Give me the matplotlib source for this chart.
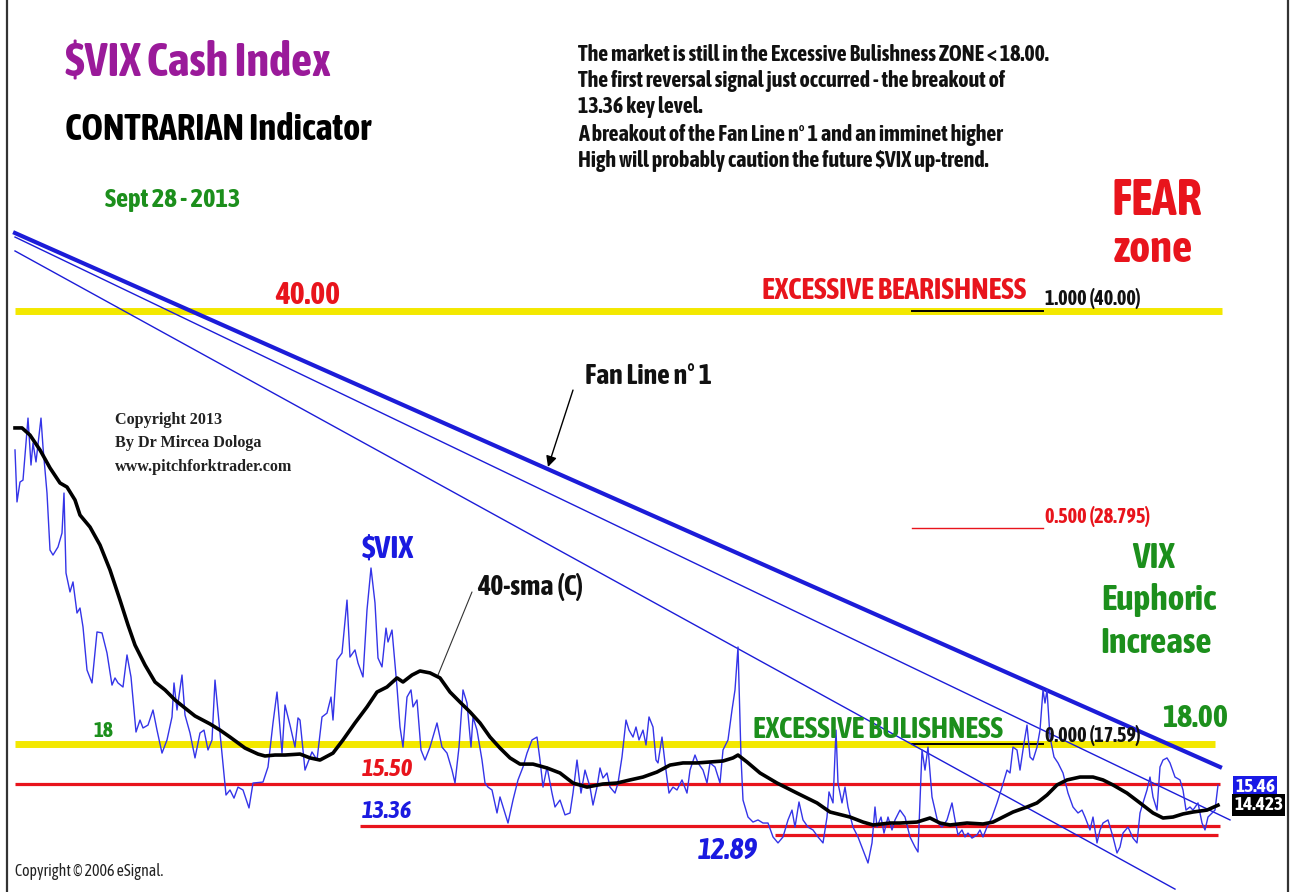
import matplotlib
matplotlib.use("Agg")
import matplotlib.pyplot as plt
from matplotlib import font_manager
import matplotlib.patheffects as pe

W, H = 1292, 892


def _w(v):
    return font_manager.weight_dict.get(v, 400) if isinstance(v, str) else v


# pick a narrow sans; bold if there is one, else regular made heavier with a stroke
NARROW, HEAVY = "Roboto", True
_narrow = [f for f in font_manager.fontManager.ttflist
           if "Narrow" in f.name or "Condensed" in f.name]
_bold = [f for f in _narrow if _w(f.weight) >= 600]
if _bold:
    NARROW, HEAVY = _bold[0].name, True
elif _narrow:
    NARROW, HEAVY = _narrow[0].name, False
SERIF = "Liberation Serif"

# ---- data (session index, price) ----
vix_bar = [0, 2, 5, 8, 13, 16, 18, 21, 26, 28, 32, 35, 38, 43, 47, 49, 51, 55, 58, 62, 65, 68,
           72, 77, 82, 87, 92, 97, 100, 103, 108, 112, 116, 121, 125, 128, 133, 138, 142, 147,
           152, 157, 159, 162, 167, 170, 175, 180, 185, 189, 193, 197, 200, 205, 211, 215, 219,
           223, 228, 234, 238, 248, 253, 258, 262, 267, 270, 275, 280, 283, 285, 290, 297, 302,
           307, 312, 316, 318, 322, 327, 332, 335, 340, 343, 348, 352, 356, 360, 363, 367, 371,
           373, 377, 382, 385, 388, 392, 396, 398, 402, 406, 410, 415, 422, 427, 432, 437, 440,
           444, 448, 452, 456, 458, 462, 467, 470, 473, 477, 482, 485, 489, 493, 498, 503, 508,
           512, 517, 522, 525, 528, 532, 537, 540, 545, 550, 555, 558, 562, 566, 570, 575, 578,
           582, 585, 588, 592, 595, 600, 603, 607, 611, 614, 618, 621, 624, 628, 631, 634, 638,
           641, 643, 647, 650, 654, 658, 662, 667, 672, 675, 680, 683, 688, 692, 695, 700, 705,
           708, 713, 717, 720, 723, 726, 728, 733, 738, 743, 748, 753, 758, 763, 768, 773, 777,
           780, 784, 788, 793, 798, 803, 808, 812, 814, 818, 821, 823, 827, 830, 833, 838, 843,
           848, 853, 857, 860, 862, 866, 869, 873, 877, 880, 885, 890, 895, 900, 903, 907, 910,
           913, 917, 920, 923, 927, 932, 937, 940, 943, 947, 950, 953, 957, 962, 965, 968, 972,
           977, 982, 987, 992, 995, 998, 1002, 1005, 1009, 1012, 1015, 1018, 1022, 1025, 1028,
           1030, 1032, 1035, 1039, 1043, 1048, 1053, 1058, 1063, 1067, 1070, 1075, 1078, 1082,
           1085, 1088, 1093, 1098, 1102, 1105, 1108, 1113, 1118, 1122, 1125, 1128, 1132, 1135,
           1138, 1142, 1145, 1148, 1152, 1155, 1160, 1165, 1168, 1171, 1175, 1178, 1183, 1187,
           1190, 1193, 1197, 1200, 1203]
vix_close = [32.81, 30.12, 31.15, 31.25, 34.46, 32.03, 33.17, 32.19, 34.46, 32.96, 30.58, 27.63,
             27.37, 27.79, 28.51, 30.58, 26.44, 25.46, 25.98, 24.37, 24.63, 23.65, 21.42, 20.75,
             23.39, 23.34, 22.30, 20.64, 21.01, 20.75, 20.54, 22.20, 21.06, 18.21, 18.83, 18.42,
             18.57, 19.35, 18.31, 17.12, 17.80, 18.99, 20.75, 19.35, 21.16, 19.09, 18.16, 16.87,
             18.16, 18.31, 17.28, 17.80, 20.90, 18.16, 14.95, 15.21, 14.79, 15.36, 15.21, 14.28,
             15.57, 15.62, 16.40, 18.68, 20.28, 17.12, 19.61, 18.57, 17.43, 18.94, 18.83, 16.24,
             17.18, 16.76, 18.99, 19.19, 20.02, 18.83, 21.94, 22.30, 25.04, 22.09, 22.46, 21.78,
             21.06, 24.53, 26.70, 24.89, 22.04, 21.58, 23.59, 22.87, 23.49, 20.54, 18.47, 17.43,
             20.02, 20.39, 19.51, 19.87, 17.28, 16.76, 17.43, 18.68, 17.43, 17.12, 16.24, 15.57,
             17.43, 20.39, 19.71, 17.43, 18.99, 18.31, 16.76, 15.57, 15.36, 15.21, 14.02, 14.85,
             14.17, 13.50, 14.69, 15.73, 16.40, 17.12, 17.80, 17.95, 16.76, 15.36, 16.40, 15.05,
             14.33, 14.69, 13.92, 14.02, 15.05, 16.76, 15.05, 16.24, 15.36, 14.43, 15.36, 16.35,
             15.83, 16.09, 15.36, 15.05, 15.57, 16.92, 18.83, 18.31, 17.95, 18.47, 17.80, 18.31,
             17.54, 18.99, 18.47, 16.76, 16.61, 17.95, 16.61, 15.05, 15.36, 15.21, 15.73, 15.05,
             16.24, 17.02, 16.61, 16.24, 15.57, 16.61, 16.40, 15.57, 17.28, 17.80, 19.35, 20.39,
             22.61, 16.92, 14.69, 13.81, 13.55, 13.66, 13.50, 13.50, 12.78, 12.47, 12.78, 13.66,
             14.17, 13.29, 14.59, 13.66, 13.29, 13.14, 12.78, 12.47, 13.81, 15.11, 14.54, 18.31,
             15.57, 14.54, 15.36, 14.33, 13.29, 12.78, 12.10, 11.43, 12.47, 14.33, 13.29, 13.81,
             12.98, 13.81, 13.14, 13.66, 14.17, 13.81, 12.78, 12.26, 12.00, 17.28, 16.24, 17.43,
             14.85, 14.17, 13.50, 13.29, 13.66, 14.54, 13.66, 12.88, 13.14, 12.78, 12.98, 12.72,
             12.88, 13.14, 12.78, 13.29, 13.81, 14.54, 15.36, 16.24, 16.09, 17.43, 17.28, 16.24,
             17.64, 18.57, 16.92, 16.76, 17.43, 18.31, 20.39, 19.71, 20.39, 17.95, 16.92, 16.61,
             16.09, 15.05, 14.33, 14.02, 14.17, 13.81, 13.14, 13.81, 12.47, 13.14, 13.50, 13.66,
             12.78, 11.95, 12.26, 12.98, 13.29, 12.72, 12.47, 14.02, 14.54, 15.21, 15.88, 14.85,
             14.17, 16.40, 16.76, 16.87, 16.61, 15.88, 15.73, 15.21, 14.17, 14.33, 14.17, 14.54,
             13.50, 13.14, 13.81, 14.02, 14.17, 15.46]

sma_bar = [0, 7, 15, 25, 35, 45, 52, 60, 65, 75, 85, 95, 105, 113, 120, 130, 140, 150, 160, 170,
           180, 195, 205, 215, 230, 243, 250, 260, 270, 285, 295, 305, 318, 328, 340, 352, 362,
           372, 382, 388, 397, 405, 415, 425, 435, 445, 455, 465, 475, 485, 495, 505, 518, 532,
           545, 558, 572, 588, 602, 615, 628, 642, 655, 668, 682, 695, 708, 718, 723, 732, 745,
           762, 782, 802, 815, 835, 848, 858, 875, 885, 902, 915, 925, 935, 952, 968, 978, 988,
           998, 1012, 1022, 1032, 1042, 1052, 1065, 1078, 1088, 1098, 1112, 1125, 1138, 1148,
           1158, 1168, 1178, 1192, 1203]
sma_40 = [33.95, 33.95, 33.58, 32.81, 31.88, 31.10, 30.89, 30.22, 29.44, 28.82, 27.89, 26.60,
          25.04, 23.75, 22.71, 21.68, 20.80, 20.39, 19.87, 19.45, 19.04, 18.63, 18.31, 17.95,
          17.38, 17.07, 16.97, 17.02, 17.02, 17.07, 16.87, 16.76, 17.12, 17.80, 18.68, 19.51,
          20.28, 20.54, 21.01, 20.80, 21.16, 21.37, 21.27, 21.01, 20.28, 19.76, 19.25, 18.68,
          17.95, 17.38, 16.87, 16.55, 16.55, 16.35, 16.09, 15.57, 15.36, 15.52, 15.57, 15.73,
          15.88, 16.14, 16.50, 16.61, 16.61, 16.66, 16.71, 16.87, 17.02, 16.66, 16.09, 15.57,
          15.05, 14.54, 14.07, 13.81, 13.55, 13.40, 13.50, 13.50, 13.55, 13.76, 13.50, 13.40,
          13.50, 13.45, 13.55, 13.81, 14.07, 14.33, 14.54, 14.95, 15.47, 15.73, 15.88, 15.88,
          15.73, 15.47, 15.05, 14.54, 14.02, 13.76, 13.81, 13.97, 14.07, 14.17, 14.423]

# fan lines: (start bar, start price, end bar, end price)
fan_lines = [(0, 44.04, 1205, 16.40), (0, 43.83, 1215, 13.66), (0, 43.11, 1160, 10.08)]
fan_width = [3.0, 1.0, 1.0]

# horizontal levels: (price, from bar, to bar)
yellow_levels = [(40.00, 0, 1207), (17.59, 0, 1200)]
red_levels = [(15.50, 0, 1205), (13.36, 345, 1205), (12.89, 760, 1203)]
fib_marks = [(40.00, "black"), (28.795, "#e8141c"), (17.59, "black")]

YELLOW = "#f3e800"
RED = "#e8141c"
GREEN = "#1c8f1c"
BLUE = "#1a1ae0"
PURPLE = "#9a1a9a"

fig = plt.figure(figsize=(W / 100, H / 100), dpi=100)
ax = fig.add_axes([0, 0, 1, 1])
ax.set_xlim(-15, 1277)
ax.set_ylim(9.93, 56.10)
ax.axis("off")

for lv, a, b in yellow_levels:
    ax.plot([a, b], [lv, lv], color=YELLOW, lw=5, solid_capstyle="butt", zorder=1)
for lv, a, b in red_levels:
    ax.plot([a, b], [lv, lv], color=RED, lw=2.3, solid_capstyle="butt", zorder=2)
for lv, c in fib_marks:
    ax.plot([897, 1028], [lv, lv], color=c, lw=1.4 if c == "black" else 1.0, zorder=3)

for (x0, y0, x1, y1), lw in zip(fan_lines, fan_width):
    ax.plot([x0, x1], [y0, y1], color="#1c1cd8", lw=lw, zorder=3)

ax.plot(vix_bar, vix_close, color="#3434e8", lw=1.0, zorder=4)
ax.plot(sma_bar, sma_40, color="black", lw=2.6, zorder=5)

# border
for bx in (-8, 1273):
    ax.axvline(bx, color="#333333", lw=1.6)

renderer = fig.canvas.get_renderer()


def txt(x, y, s, width, color="black", family=None, ha="left", size=None, **kw):
    """Text at pixel (x, baseline y); sized to a pixel width unless size is given."""
    weight = kw.pop("weight", "bold")
    fam = family or NARROW
    if fam == NARROW and weight == "bold" and not HEAVY:
        weight = "normal"
        kw["path_effects"] = [pe.withStroke(linewidth=1.1, foreground=color)]
    t = fig.text(x / W, 1 - y / H, s, fontsize=size or 20, color=color, family=fam,
                 va="baseline", ha=ha, weight=weight, **kw)
    if size is None:
        w = t.get_window_extent(renderer).width
        t.set_fontsize(20 * width / w)
    return t


txt(65, 77, "$VIX Cash Index", 265, PURPLE)
txt(65, 140, "CONTRARIAN Indicator", 305, "black")
txt(105, 207, "Sept 28 - 2013", 135, GREEN)

para = ["The market is still in the Excessive Bulishness ZONE < 18.00.",
        "The first reversal signal just occurred - the breakout of",
        "13.36 key level.",
        "A breakout of the Fan Line n\u00b0 1 and an imminet higher",
        "High will probably caution the future $VIX up-trend."]
first = txt(578, 61, para[0], 472, "#111111")
for s, yb in zip(para[1:], [87, 113, 141, 167]):
    txt(578, yb, s, 0, "#111111", size=first.get_fontsize())

txt(1157, 215, "FEAR", 90, RED, ha="center")
txt(1153, 262, "zone", 79, RED, ha="center")
txt(275, 304, "40.00", 65, RED)
txt(762, 299, "EXCESSIVE BEARISHNESS", 263, RED)
txt(1045, 305, "1.000 (40.00)", 95, "#111111")
txt(585, 384, "Fan Line n\u00b0 1", 127, "#111111")
txt(1045, 523, "0.500 (28.795)", 105, RED)
txt(1045, 742, "0.000 (17.59)", 95, "#111111")

cp = txt(115, 471, "www.pitchforktrader.com", 178, "#222222", family=SERIF)
for s, yb in zip(["Copyright 2013", "By Dr Mircea Dologa"], [424, 447]):
    txt(115, yb, s, 0, "#222222", family=SERIF, size=cp.get_fontsize())

txt(362, 558, "$VIX", 52, BLUE)
txt(477, 595, "40-sma (C)", 106, "#111111")
eu = txt(1159, 610, "Euphoric", 115, GREEN, ha="center")
for s, yb, xc in [("VIX", 568, 1153), ("Increase", 653, 1156)]:
    txt(xc, yb, s, 0, GREEN, ha="center", size=eu.get_fontsize())
txt(93, 737, "18", 20, GREEN)
txt(753, 738, "EXCESSIVE BULISHNESS", 248, GREEN)
txt(1162, 727, "18.00", 66, GREEN)
txt(362, 776, "15.50", 51, RED, style="italic")
txt(362, 818, "13.36", 50, BLUE, style="italic")
txt(698, 859, "12.89", 60, BLUE, style="italic")
txt(15, 876, "Copyright \u00a9 2006 eSignal.", 148, "#222222", weight="normal")

# last value tags
txt(1235, 792, "15.46", 40, "white",
    bbox=dict(boxstyle="square,pad=0.12", fc="#1a1ae6", ec="none"))
txt(1234, 810, "14.423", 49, "white",
    bbox=dict(boxstyle="square,pad=0.12", fc="black", ec="none"))

# call-outs
ax.annotate("", xy=(533, 31.93), xytext=(558, 35.91),
            arrowprops=dict(arrowstyle="-|>", color="black", lw=1.0, mutation_scale=16,
                            shrinkA=0, shrinkB=0))
ax.annotate("", xy=(423, 21.16), xytext=(457, 25.46),
            arrowprops=dict(arrowstyle="-", color="#333333", lw=0.8, shrinkA=0, shrinkB=0))

fig.savefig("out.png", dpi=100)
